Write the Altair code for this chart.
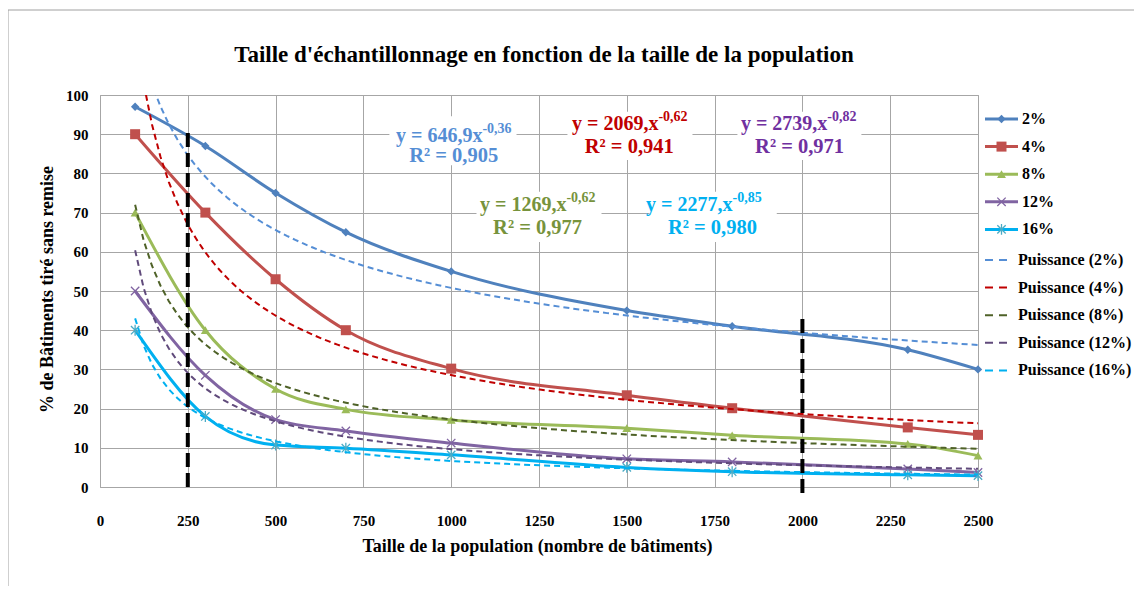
import altair as alt
import pandas as pd

# ---------------- data ----------------
x_pop = [100, 300, 500, 700, 1000, 1500, 1800, 2300, 2500]
series_names = ["2%", "4%", "8%", "12%", "16%"]
s2 = [97, 87, 75, 65, 55, 45, 41, 35, 30]
s4 = [90, 70, 53, 40, 30.2, 23.4, 20.1, 15.2, 13.3]
s8 = [70, 40, 25, 19.8, 17.1, 15, 13.2, 11, 8]
s12 = [50, 28.5, 17.2, 14.3, 11.2, 7.2, 6.4, 4.6, 3.7]
s16 = [40, 18, 10.7, 9.9, 8.2, 5.0, 3.9, 3.1, 2.9]
series_values = [s2, s4, s8, s12, s16]

trend_names = ["Puissance (2%)", "Puissance (4%)", "Puissance (8%)",
               "Puissance (12%)", "Puissance (16%)"]

eq_main = ["y = 646,9x", "y = 2069,x", "y = 1269,x", "y = 2739,x", "y = 2277,x"]
eq_exp = ["-0,36", "-0,62", "-0,62", "-0,82", "-0,85"]
eq_r2 = ["R² = 0,905", "R² = 0,941", "R² = 0,977", "R² = 0,971", "R² = 0,980"]

marker_lines_x = [250, 2000]
marker_lines_top = [91, 43]

x_ticks = list(range(0, 2501, 250))
y_ticks = list(range(0, 101, 10))

# ---------------- styles / layout ----------------
FONT = "Liberation Serif"
line_colors = ["#4F81BD", "#C0504D", "#9BBB59", "#8064A2", "#00B0F0"]
marker_colors = ["#4F81BD", "#C0504D", "#9BBB59", "#8064A2", "#4BACC6"]
marker_shapes = ["diamond", "square", "triangle-up",
                 "M-1,-1L1,1M-1,1L1,-1",
                 "M-1,-1L1,1M-1,1L1,-1M0,-1.3L0,1.3"]
marker_filled = [True, True, True, False, False]
marker_sizes = [70, 100, 80, 70, 70]
trend_colors = ["#558ED5", "#C00000", "#4F6228", "#604A7B", "#00B0F0"]
eq_colors = ["#558ED5", "#C00000", "#77933C", "#7030A0", "#00B0F0"]

# annotation anchors (data units)
eq_anchor_x = [1089, 1590, 1328, 2071, 1801]
eq_line_y = [89.6, 92.6, 72.0, 92.6, 72.0]
r2_x = [1007, 1507, 1246, 1992, 1744]
r2_y = [84.5, 86.7, 66.1, 86.7, 66.1]
box_x0 = [824, 1331, 1072, 1815, 1565]
box_x1 = [1186, 1687, 1428, 2168, 1927]
box_y0 = [82.1, 83.4, 62.5, 83.4, 62.5]
box_y1 = [94.6, 95.7, 75.3, 95.7, 75.3]

W, H = 878, 392
GRID = "#A6A6A6"

xs = alt.Scale(domain=[0, 2500], nice=False, zero=False)
ys = alt.Scale(domain=[0, 100], nice=False, zero=False)

x_axis = alt.Axis(values=x_ticks, format="d", grid=True, gridColor=GRID,
                  domain=False, ticks=False, tickSize=0, labelFlush=False,
                  labelFont=FONT, labelFontSize=15, labelFontWeight="bold",
                  labelColor="#000", labelPadding=26,
                  title="Taille de la population (nombre de bâtiments)",
                  titleFont=FONT, titleFontSize=18, titleFontWeight="bold",
                  titleColor="#000", titleX=437, titleY=59,
                  titleBaseline="middle", titleAnchor="middle")
y_axis = alt.Axis(values=y_ticks, format="d", grid=True, gridColor=GRID,
                  domain=False, ticks=False, tickSize=0, labelFlush=False,
                  labelFont=FONT, labelFontSize=15, labelFontWeight="bold",
                  labelColor="#000", labelPadding=12,
                  title="% de Bâtiments tiré sans remise",
                  titleFont=FONT, titleFontSize=18, titleFontWeight="bold",
                  titleColor="#000", titleX=-53, titleY=194,
                  titleAngle=-90, titleBaseline="middle", titleAlign="center")


def X(field):
    return alt.X(field, type="quantitative", scale=xs, axis=x_axis)


def Y(field):
    return alt.Y(field, type="quantitative", scale=ys, axis=y_axis)


layers = []

# white boxes behind equations
box_df = pd.DataFrame({"bx0": box_x0, "bx1": box_x1, "by0": box_y0, "by1": box_y1})
layers.append(
    alt.Chart(box_df).mark_rect(fill="white", stroke=None).encode(
        x=X("bx0"), x2="bx1", y=Y("by0"), y2="by1")
)

# data series lines and markers
series_dfs = []
for name, vals in zip(series_names, series_values):
    series_dfs.append(pd.DataFrame({"x": x_pop, "y": vals, "series": name}))

for i, df in enumerate(series_dfs):
    layers.append(
        alt.Chart(df).mark_line(color=line_colors[i], strokeWidth=3,
                                interpolate="monotone").encode(x=X("x"), y=Y("y"))
    )
for i, df in enumerate(series_dfs):
    layers.append(
        alt.Chart(df).mark_point(shape=marker_shapes[i], filled=marker_filled[i],
                                 color=marker_colors[i], size=marker_sizes[i],
                                 opacity=1, strokeWidth=1.3).encode(x=X("x"), y=Y("y"))
    )

# power trendlines (fitted by Vega's regression transform)
for i, df in enumerate(series_dfs):
    layers.append(
        alt.Chart(df).transform_regression("x", "y", method="pow", extent=[100, 2500])
        .mark_line(color=trend_colors[i], strokeWidth=2, strokeDash=[6, 4], clip=True)
        .encode(x=X("x"), y=Y("y"))
    )

# black vertical dashed lines
vl_df = pd.DataFrame({"vx": marker_lines_x, "vtop": marker_lines_top, "vbot": [0, -1.5]})
layers.append(
    alt.Chart(vl_df).mark_rule(color="black", strokeWidth=4, strokeDash=[14, 6]).encode(
        x=X("vx"), y=Y("vbot"), y2="vtop")
)

# equation texts
eq_df = pd.DataFrame({"ax": eq_anchor_x, "ay": eq_line_y, "main": eq_main, "exp": eq_exp,
                      "rx": r2_x, "ry": r2_y, "r2": eq_r2})
for i in range(len(eq_main)):
    sub = eq_df.iloc[[i]]
    layers.append(
        alt.Chart(sub).mark_text(align="right", baseline="middle", font=FONT,
                                 fontSize=20, fontWeight="bold", color=eq_colors[i])
        .encode(x=X("ax"), y=Y("ay"), text="main:N")
    )
    layers.append(
        alt.Chart(sub).mark_text(align="left", baseline="middle", font=FONT, dy=-7,
                                 fontSize=14, fontWeight="bold", color=eq_colors[i])
        .encode(x=X("ax"), y=Y("ay"), text="exp:N")
    )
    layers.append(
        alt.Chart(sub).mark_text(align="center", baseline="middle", font=FONT,
                                 fontSize=20.5, fontWeight="bold", color=eq_colors[i])
        .encode(x=X("rx"), y=Y("ry"), text="r2:N")
    )

# ---------------- custom legend (pixel layout) ----------------
legend_labels = series_names + trend_names
LEG_Y0, LEG_STEP = 24, 27.6
for i, lab in enumerate(legend_labels):
    ldf = pd.DataFrame({"label": [lab], "ly": [LEG_Y0 + LEG_STEP * i + (3 if i >= 5 else 0)]})
    ly = alt.Y("ly:Q", scale=None, axis=None)
    if i < 5:
        layers.append(alt.Chart(ldf).mark_rule(color=line_colors[i], strokeWidth=3).encode(
            x=alt.value(885), x2=alt.value(918), y=ly))
        layers.append(alt.Chart(ldf).mark_point(shape=marker_shapes[i], filled=marker_filled[i],
                                                color=marker_colors[i], size=marker_sizes[i],
                                                opacity=1, strokeWidth=1.3).encode(
            x=alt.value(901.5), y=ly))
        tx = 922
    else:
        j = i - 5
        layers.append(alt.Chart(ldf).mark_rule(color=trend_colors[j], strokeWidth=2,
                                               strokeDash=[8, 6]).encode(
            x=alt.value(885), x2=alt.value(907), y=ly))
        tx = 918
    layers.append(alt.Chart(ldf).mark_text(align="left", baseline="middle", font=FONT,
                                           fontSize=16, fontWeight="bold", color="#000").encode(
        x=alt.value(tx), y=ly, text="label:N"))

# chart title and outer border
title_df = pd.DataFrame({"t": ["Taille d'échantillonnage en fonction de la taille de la population"]})
layers.append(alt.Chart(title_df).mark_text(align="center", baseline="middle", font=FONT,
                                            fontSize=23, fontWeight="bold", color="#000").encode(
    x=alt.value(444), y=alt.value(-40), text="t:N"))
layers.append(alt.Chart(title_df).mark_rect(fill=None, stroke="#A0A0A0", strokeWidth=1).encode(
    x=alt.value(-92), x2=alt.value(1100), y=alt.value(-85), y2=alt.value(520)))

chart = alt.layer(*layers).properties(
    width=W, height=H,
    autosize=alt.AutoSizeParams(type="none"),
    padding={"left": 92, "top": 87, "right": 156, "bottom": 99},
    background="white",
).configure_view(stroke=GRID, strokeWidth=1)

chart.save("out.html", embed_options={"renderer": "svg", "actions": False})
